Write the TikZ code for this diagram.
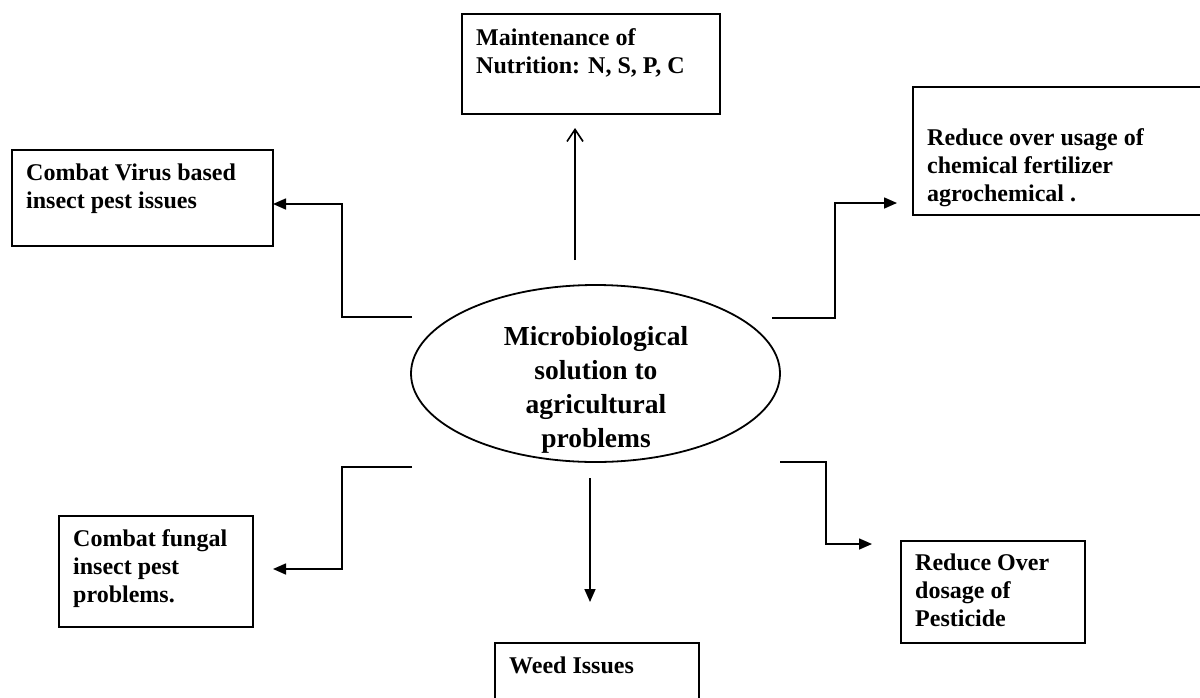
\documentclass[tikz,border=0pt]{standalone}
\usepackage{fontspec}
\setmainfont{Liberation Serif}
\usetikzlibrary{arrows.meta,shapes.geometric}
\newcommand{\boxlines}[2]{\parbox[t]{#1}{\raggedright #2}}
\tikzset{
  box/.style={draw, line width=1.8pt, rectangle, inner sep=0pt, anchor=north west},
  boxtext/.style={anchor=base west, inner sep=0pt, font=\fontsize{24}{28}\selectfont\bfseries},
  maintext/.style={anchor=base, inner sep=0pt, font=\fontsize{27.5}{34}\selectfont\bfseries},
  conn/.style={line width=1.6pt, -{Triangle[length=13pt,width=11pt]}},
  openconn/.style={line width=1.6pt, -{Straight Barb[length=12pt,width=16pt]}},
}
\begin{document}
\begin{tikzpicture}[x=1pt,y=-1pt]
\useasboundingbox (0,0) rectangle (1200,697);
% central ellipse
\node[draw, ellipse, line width=1.8pt, minimum width=369pt, minimum height=177pt, inner sep=0pt] (main) at (595.5,373.5) {};
\node[maintext] (maint) at (596,345) {\parbox[t]{300pt}{\centering Microbiological\\solution to\\agricultural\\problems}};
% boxes
\node[box, minimum width=258pt, minimum height=100pt] (nutr) at (461,13) {};
\node[boxtext] (nutrt) at (476,45) {\boxlines{250pt}{Maintenance of\\Nutrition: N, S, P, C}};
\node[box, minimum width=261pt, minimum height=96pt] (virus) at (11,149) {};
\node[boxtext] (virust) at (26,180) {\boxlines{250pt}{Combat Virus based\\insect pest issues}};
\node[box, minimum width=290pt, minimum height=128pt] (chem) at (912,86) {};
\node[boxtext] (chemt) at (927,145) {\boxlines{270pt}{Reduce over usage of\\chemical fertilizer\\agrochemical .}};
\node[box, minimum width=194pt, minimum height=111pt] (fung) at (58,515) {};
\node[boxtext] (fungt) at (73,546) {\boxlines{180pt}{Combat fungal\\insect pest\\problems.}};
\node[box, minimum width=184pt, minimum height=102pt] (pest) at (900,540) {};
\node[boxtext] (pestt) at (915,570) {\boxlines{170pt}{Reduce Over\\dosage of\\Pesticide}};
\node[box, minimum width=204pt, minimum height=65pt] (weed) at (494,642) {};
\node[boxtext] (weedt) at (509,673) {\boxlines{190pt}{Weed Issues}};
% connector ends
\coordinate (upS) at (575,260);
\coordinate (upE) at (575,128);
\coordinate (vS) at (412,317);
\coordinate (vE) at (273,204);
\coordinate (cS) at (772,318);
\coordinate (cE) at (897,203);
\coordinate (fS) at (412,467);
\coordinate (fE) at (273,569);
\coordinate (pS) at (780,462);
\coordinate (pE) at (872,544);
\coordinate (dS) at (590,478);
\coordinate (dE) at (590,602);
% connectors
\draw[openconn] (upS) -- (upE);
\draw[conn] (vS) -- ++(-70,0) |- (vE);
\draw[conn] (cS) -- ++(63,0) |- (cE);
\draw[conn] (fS) -- ++(-70,0) |- (fE);
\draw[conn] (pS) -- ++(46,0) |- (pE);
\draw[conn] (dS) -- (dE);
\end{tikzpicture}
\end{document}
